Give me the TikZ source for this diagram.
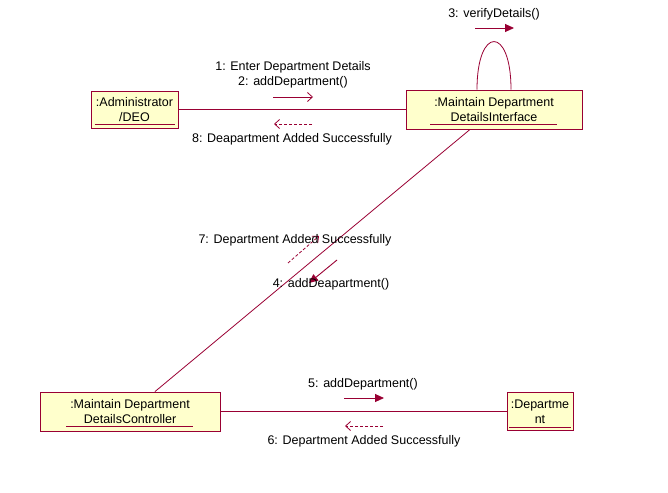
\documentclass[tikz,border=0pt]{standalone}
\usepackage{fontspec}
\setmainfont{Liberation Sans}
\usetikzlibrary{arrows.meta}
\definecolor{umlred}{RGB}{153,0,51}
\definecolor{umlfill}{RGB}{255,255,204}

\begin{document}
\begin{tikzpicture}[x=1pt, y=-1pt, every node/.style={font=\fontsize{12.5}{15}\selectfont},
  box/.style={draw=umlred, fill=umlfill, line width=0.9pt, align=center, inner sep=0pt},
  link/.style={umlred, line width=0.8pt},
  call/.style={umlred, line width=0.9pt, -{Triangle[length=9pt, width=8pt]}},
  msg/.style={umlred, line width=0.8pt, -{Straight Barb[length=5pt, width=9pt]}},
  reply/.style={umlred, line width=0.8pt, dashed, dash pattern=on 3pt off 2pt, -{Straight Barb[length=5pt, width=9pt]}},
  uline/.style={umlred, line width=0.8pt}]
  \useasboundingbox (0,0) rectangle (668,492);

  % Objects
  \node[box, minimum width=87pt, minimum height=37pt] (admin) at (134.5,109.5)
    {:Administrator\\/DEO};
  \node[box, minimum width=176pt, minimum height=39pt] (iface) at (494,109.5)
    {:Maintain Department\\DetailsInterface};
  \node[box, minimum width=180pt, minimum height=39pt] (ctrl) at (130,411.5)
    {:Maintain Department\\DetailsController};
  \node[box, minimum width=66pt, minimum height=38pt] (dept) at (540,411.5)
    {:Departme\\nt};

  % Underlines of object names
  \draw[uline] ([xshift=-40pt, yshift=4pt]admin.south) -- ([xshift=40pt, yshift=4pt]admin.south);
  \draw[uline] ([xshift=-64pt, yshift=5pt]iface.south) -- ([xshift=63pt, yshift=5pt]iface.south);
  \draw[uline] ([xshift=-64pt, yshift=5pt]ctrl.south) -- ([xshift=63pt, yshift=5pt]ctrl.south);
  \draw[uline] ([xshift=-31pt, yshift=4pt]dept.south) -- ([xshift=31pt, yshift=4pt]dept.south);

  % Links
  \draw[link] (admin.east) -- (iface.west);
  \draw[link] ([xshift=-24pt]iface.south) -- ([xshift=25pt]ctrl.north);
  \draw[link] (ctrl.east) -- (dept.west);
  \draw[link] ([xshift=-17pt]iface.north) .. controls +(0pt,64pt) and +(0pt,64pt) .. ([xshift=17pt]iface.north);

  % Messages Administrator - Interface
  \node at (293,67) {1: Enter Department Details};
  \node at (293,82) {2: addDepartment()};
  \draw[msg] (273,97) -- (313,97);
  \draw[reply] (312,124) -- (274,124);
  \node at (292,139) {8: Deapartment Added Successfully};

  % Self message
  \node at (494,14) {3: verifyDetails()};
  \draw[call] (475,28) -- (514,28);

  % Messages Interface - Controller
  \draw[reply] (288,263) -- (319,236);
  \node at (295,240) {7: Department Added Successfully};
  \draw[call] (337,260) -- (309,283);
  \node at (331,284) {4: addDeapartment()};

  % Messages Controller - Department
  \node at (363,384) {5: addDepartment()};
  \draw[call] (344,398) -- (384,398);
  \draw[reply] (383,426) -- (345,426);
  \node at (364,441) {6: Department Added Successfully};
\end{tikzpicture}
\end{document}
